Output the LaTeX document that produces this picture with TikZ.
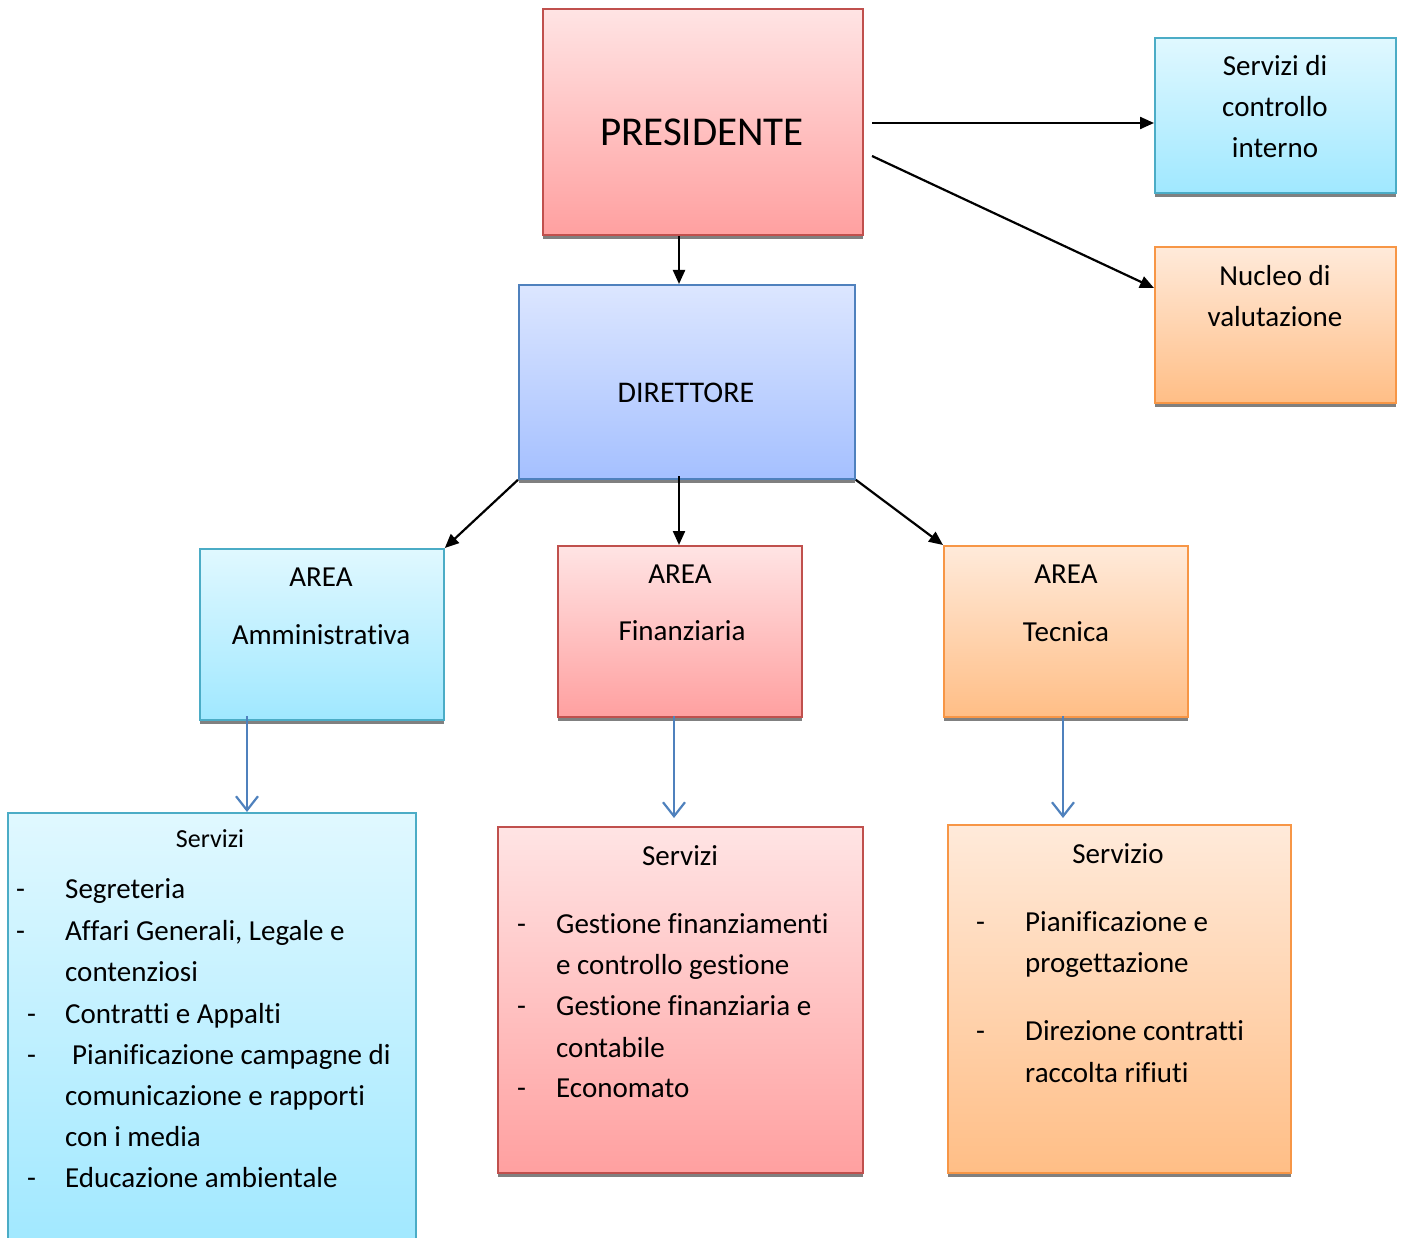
\documentclass[tikz,border=0pt]{standalone}
\usepackage{fontspec}
\setmainfont[Ligatures=NoCommon]{Carlito}
\usetikzlibrary{arrows.meta,shadows}
\definecolor{redtop}{RGB}{255,228,228}
\definecolor{redbot}{RGB}{255,160,160}
\definecolor{redline}{RGB}{192,80,77}
\definecolor{cyantop}{RGB}{224,248,255}
\definecolor{cyanbot}{RGB}{160,232,255}
\definecolor{cyanline}{RGB}{75,172,198}
\definecolor{orgtop}{RGB}{255,234,218}
\definecolor{orgbot}{RGB}{255,190,134}
\definecolor{orgline}{RGB}{247,150,70}
\definecolor{bluetop}{RGB}{220,230,255}
\definecolor{bluebot}{RGB}{165,192,255}
\definecolor{blueline}{RGB}{79,129,189}
\definecolor{shadowgray}{RGB}{128,128,128}
\tikzset{
  box/.style={rectangle, anchor=north west, inner sep=0pt, line width=1.8pt,
    drop shadow={shadow xshift=0pt, shadow yshift=-4pt, opacity=1, fill=shadowgray}},
  redbox/.style={box, draw=redline, top color=redtop, bottom color=redbot},
  cyanbox/.style={box, draw=cyanline, top color=cyantop, bottom color=cyanbot},
  orgbox/.style={box, draw=orgline, top color=orgtop, bottom color=orgbot},
  bluebox/.style={box, draw=blueline, top color=bluetop, bottom color=bluebot},
  txt/.style={inner sep=0pt, font=\fontsize{29}{41}\selectfont, align=center},
  item/.style={inner sep=0pt, anchor=mid west, font=\fontsize{29}{41}\selectfont},
  blk/.style={-{Triangle[length=14pt,width=12pt]}, line width=2.2pt, black},
  blu/.style={-{Straight Barb[length=14pt,width=22pt,line width=2.2pt]}, line width=2.8pt, blueline},
}
\begin{document}
\begin{tikzpicture}[x=1pt,y=-1pt]
\useasboundingbox (0,0) rectangle (1405,1238);
% boxes
\node[redbox, minimum width=320pt, minimum height=226pt] (pres) at (542,8) {};
\node[cyanbox, minimum width=241pt, minimum height=155pt] (sci) at (1154,37) {};
\node[orgbox, minimum width=241pt, minimum height=156pt] (nv) at (1154,246) {};
\node[bluebox, minimum width=336pt, minimum height=194pt] (dir) at (518,284) {};
\node[cyanbox, minimum width=244pt, minimum height=171pt] (aa) at (199,548) {};
\node[redbox, minimum width=244pt, minimum height=171pt] (af) at (557,545) {};
\node[orgbox, minimum width=244pt, minimum height=171pt] (at) at (943,545) {};
\node[cyanbox, minimum width=408pt, minimum height=440pt] (sa) at (7,812) {};
\node[redbox, minimum width=365pt, minimum height=346pt] (sf) at (497,826) {};
\node[orgbox, minimum width=343pt, minimum height=348pt] (st) at (947,824) {};
% texts
\node[txt, font=\fontsize{41}{41}\selectfont] (tpres) at (702,132) {PRESIDENTE};
\node[txt] (tsci) at (1275,107) {Servizi di\\controllo\\interno};
\node[txt] (tnv) at (1275,296) {Nucleo di\\valutazione};
\node[txt, font=\fontsize{30}{41}\selectfont] (tdir) at (686,393) {DIRETTORE};
\node[txt] (taa1) at (321,577) {AREA};
\node[txt] (taa2) at (321,635) {Amministrativa};
\node[txt] (taf1) at (680,574) {AREA};
\node[txt] (taf2) at (682,631) {Finanziaria};
\node[txt] (tat1) at (1066,574) {AREA};
\node[txt] (tat2) at (1066,632) {Tecnica};
% left list
\node[txt, font=\fontsize{26}{41}\selectfont] (sat) at (210,839) {Servizi};
\node[item] (d1) at (16,896) {-};
\node[item] (l1) at (65,896) {Segreteria};
\node[item] (d2) at (16,938) {-};
\node[item] (l2) at (65,938) {Affari Generali, Legale e};
\node[item] (l2b) at (65,979) {contenziosi};
\node[item] (d3) at (27,1021) {-};
\node[item] (l3) at (65,1021) {Contratti e Appalti};
\node[item] (d4) at (27,1062) {-};
\node[item] (l4) at (72,1062) {Pianificazione campagne di};
\node[item] (l4b) at (65,1103) {comunicazione e rapporti};
\node[item] (l4c) at (65,1144) {con i media};
\node[item] (d5) at (27,1185) {-};
\node[item] (l5) at (65,1185) {Educazione ambientale};
% middle list
\node[txt] (sft) at (680,856) {Servizi};
\node[item] (m1d) at (517,931) {-};
\node[item] (m1) at (556,931) {Gestione finanziamenti};
\node[item] (m1b) at (556,972) {e controllo gestione};
\node[item] (m2d) at (517,1013) {-};
\node[item] (m2) at (556,1013) {Gestione finanziaria e};
\node[item] (m2b) at (556,1055) {contabile};
\node[item] (m3d) at (517,1095) {-};
\node[item] (m3) at (556,1095) {Economato};
% right list
\node[txt] (stt) at (1118,854) {Servizio};
\node[item] (r1d) at (976,929) {-};
\node[item] (r1) at (1025,929) {Pianificazione e};
\node[item] (r1b) at (1025,970) {progettazione};
\node[item] (r2d) at (976,1038) {-};
\node[item] (r2) at (1025,1038) {Direzione contratti};
\node[item] (r2b) at (1025,1080) {raccolta rifiuti};
% connectors
\coordinate (p1) at (872,123);
\coordinate (p2) at (872,156);
\draw[blk] (pres.south -| 679,0) -- (dir.north -| 679,0);
\draw[blk] (p1) -- (sci.west |- p1);
\draw[blk] (p2) -- (nv.north west |- 0,288);
\draw[blk] (dir.south west) -- (aa.north east);
\draw[blk] (679,476) -- (af.north -| 679,0);
\draw[blk] (dir.south east) -- (at.north west);
\draw[blu] (247,716) -- (sa.north -| 247,0);
\draw[blu] (674,716) -- (674,818);
\draw[blu] (1063,716) -- (1063,818);
\end{tikzpicture}
\end{document}
